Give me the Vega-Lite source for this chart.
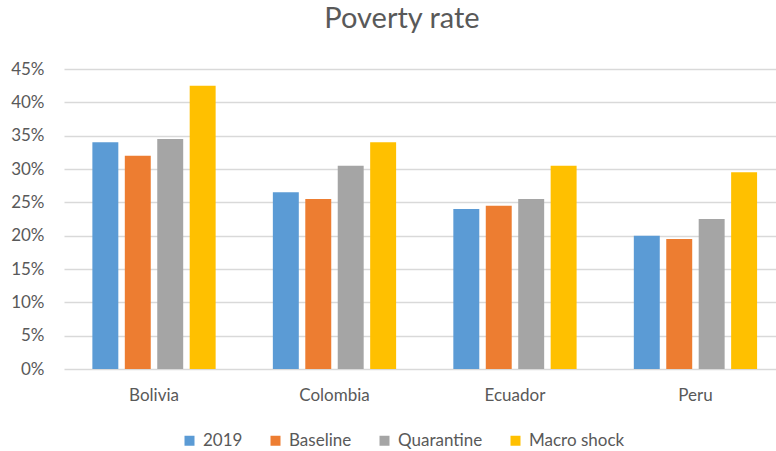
{
  "$schema": "https://vega.github.io/schema/vega-lite/v6.json",
  "autosize": "none",
  "width": 712,
  "height": 300,
  "padding": {"left": 64, "top": 69, "right": 0, "bottom": 82},
  "background": "white",
  "title": {
    "text": "Poverty rate",
    "font": "Lato",
    "fontSize": 29,
    "fontWeight": "normal",
    "color": "#595959",
    "anchor": "middle",
    "dx": -18,
    "offset": 26
  },
  "data": {
    "values": [
      {"country": "Bolivia", "scenario": "2019", "rate": 0.34},
      {"country": "Bolivia", "scenario": "Baseline", "rate": 0.32},
      {"country": "Bolivia", "scenario": "Quarantine", "rate": 0.345},
      {"country": "Bolivia", "scenario": "Macro shock", "rate": 0.425},
      {"country": "Colombia", "scenario": "2019", "rate": 0.265},
      {"country": "Colombia", "scenario": "Baseline", "rate": 0.255},
      {"country": "Colombia", "scenario": "Quarantine", "rate": 0.305},
      {"country": "Colombia", "scenario": "Macro shock", "rate": 0.34},
      {"country": "Ecuador", "scenario": "2019", "rate": 0.24},
      {"country": "Ecuador", "scenario": "Baseline", "rate": 0.245},
      {"country": "Ecuador", "scenario": "Quarantine", "rate": 0.255},
      {"country": "Ecuador", "scenario": "Macro shock", "rate": 0.305},
      {"country": "Peru", "scenario": "2019", "rate": 0.20},
      {"country": "Peru", "scenario": "Baseline", "rate": 0.195},
      {"country": "Peru", "scenario": "Quarantine", "rate": 0.225},
      {"country": "Peru", "scenario": "Macro shock", "rate": 0.295}
    ]
  },
  "mark": {"type": "bar"},
  "encoding": {
    "x": {
      "field": "country",
      "type": "nominal",
      "sort": ["Bolivia", "Colombia", "Ecuador", "Peru"],
      "scale": {"paddingInner": 0.317, "paddingOuter": 0.131, "align": 0.6},
      "axis": {
        "title": null,
        "labelAngle": 0,
        "labelFont": "Lato",
        "labelFontSize": 17,
        "labelColor": "#595959",
        "labelPadding": 18,
        "ticks": false,
        "domain": false,
        "grid": false
      }
    },
    "xOffset": {
      "field": "scenario",
      "type": "nominal",
      "sort": ["2019", "Baseline", "Quarantine", "Macro shock"],
      "scale": {"paddingInner": 0.2, "paddingOuter": 0}
    },
    "y": {
      "field": "rate",
      "type": "quantitative",
      "scale": {"domain": [0, 0.45], "nice": false},
      "axis": {
        "title": null,
        "format": ".0%",
        "values": [0, 0.05, 0.1, 0.15, 0.2, 0.25, 0.3, 0.35, 0.4, 0.45],
        "labelFont": "Lato",
        "labelFontSize": 17,
        "labelColor": "#595959",
        "labelPadding": 20,
        "ticks": false,
        "domain": false,
        "grid": true,
        "gridColor": "#d9d9d9",
        "gridWidth": 1.5
      }
    },
    "color": {
      "field": "scenario",
      "type": "nominal",
      "sort": ["2019", "Baseline", "Quarantine", "Macro shock"],
      "scale": {
        "domain": ["2019", "Baseline", "Quarantine", "Macro shock"],
        "range": ["#5B9BD5", "#ED7D31", "#A5A5A5", "#FFC000"]
      },
      "legend": {
        "title": null,
        "orient": "none",
        "direction": "horizontal",
        "legendX": 117,
        "legendY": 363,
        "symbolType": "square",
        "symbolSize": 100,
        "symbolStrokeWidth": 0,
        "labelFont": "Lato",
        "labelFontSize": 17,
        "labelColor": "#595959",
        "labelOffset": 5,
        "columnPadding": 24
      }
    }
  },
  "config": {"view": {"stroke": null}}
}
